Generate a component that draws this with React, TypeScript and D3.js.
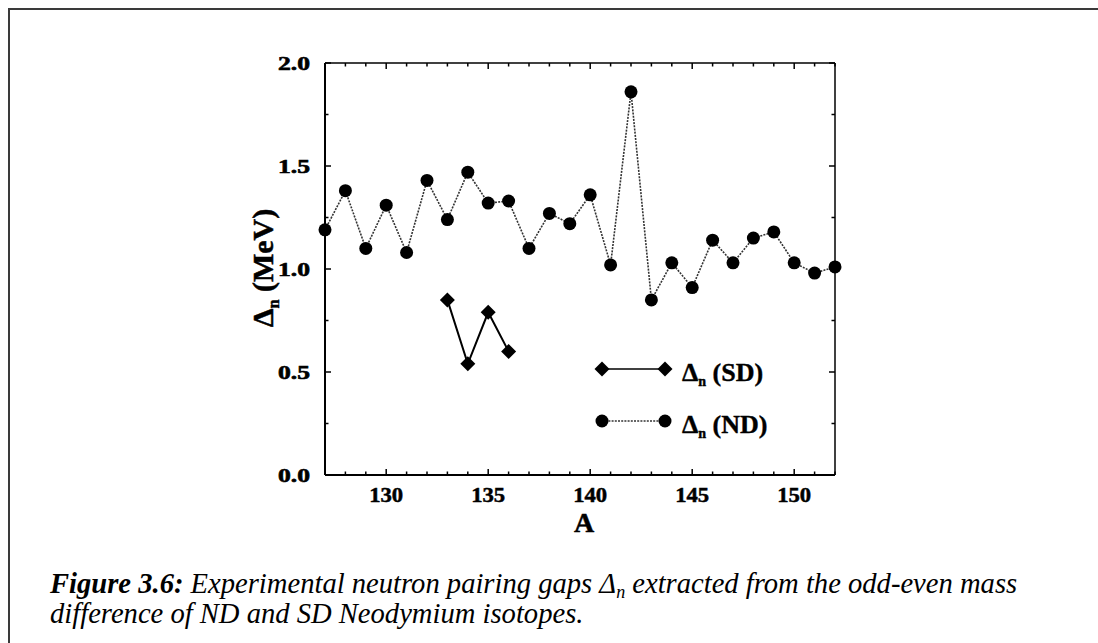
import React from "react";
import * as d3 from "d3";

const massND = [127, 128, 129, 130, 131, 132, 133, 134, 135, 136, 137, 138, 139, 140, 141, 142, 143, 144, 145, 146, 147, 148, 149, 150, 151, 152];
const gapND = [1.19, 1.38, 1.10, 1.31, 1.08, 1.43, 1.24, 1.47, 1.32, 1.33, 1.10, 1.27, 1.22, 1.36, 1.02, 1.86, 0.85, 1.03, 0.91, 1.14, 1.03, 1.15, 1.18, 1.03, 0.98, 1.01];
const massSD = [133, 134, 135, 136];
const gapSD = [0.85, 0.54, 0.79, 0.60];
const xTickValues = [130, 135, 140, 145, 150];
const yTickValues = [0, 0.5, 1.0, 1.5, 2.0];
const yTickLabels = ["0.0", "0.5", "1.0", "1.5", "2.0"];

const L = 325, R = 835, T = 63, B = 475;

export default function App() {
  const x = d3.scaleLinear().domain([127, 152]).range([L, R]);
  const y = d3.scaleLinear().domain([0, 2]).range([B, T]);
  const ndPts: [number, number][] = massND.map((a, i) => [x(a), y(gapND[i])]);
  const sdPts: [number, number][] = massSD.map((a, i) => [x(a), y(gapSD[i])]);
  const line = d3.line();
  const xMinor = d3.range(127, 153, 1);
  const yMinor = d3.range(0, 2.001, 0.25);
  const serif = "'Liberation Serif', 'Times New Roman', serif";
  const diamond = (cx: number, cy: number, r: number) =>
    `M${cx},${cy - r}L${cx + r},${cy}L${cx},${cy + r}L${cx - r},${cy}Z`;
  const ndStroke = "#333";
  const ndDash = "2,1.2";

  return (
    <svg width={1098} height={643} style={{ position: "absolute", left: 0, top: 0, display: "block" }}>
      <rect x={0} y={0} width={1098} height={643} fill="#fff" />
      <rect x={9} y={9} width={1200} height={1000} fill="none" stroke="#3a3a3a" strokeWidth={2} />

      {/* ticks */}
      {xMinor.map((a) => {
        const major = a % 5 === 0;
        const len = major ? 6 : 3.5;
        return (
          <g key={"xt" + a}>
            <line x1={x(a)} x2={x(a)} y1={B} y2={B - len} stroke="#000" strokeWidth={1.5} />
            <line x1={x(a)} x2={x(a)} y1={T} y2={T + len} stroke="#000" strokeWidth={1.5} />
          </g>
        );
      })}
      {yMinor.map((v) => {
        const major = Math.abs((v * 2) - Math.round(v * 2)) < 1e-6;
        const len = major ? 6 : 3.5;
        return (
          <g key={"yt" + v}>
            <line x1={L} x2={L + len} y1={y(v)} y2={y(v)} stroke="#000" strokeWidth={1.5} />
            <line x1={R} x2={R - len} y1={y(v)} y2={y(v)} stroke="#000" strokeWidth={1.5} />
          </g>
        );
      })}

      {/* frame */}
      <line x1={L} x2={R} y1={T} y2={T} stroke="#000" strokeWidth={1.5} />
      <line x1={R} x2={R} y1={T} y2={B} stroke="#000" strokeWidth={1.5} />
      <line x1={L} x2={R} y1={B} y2={B} stroke="#000" strokeWidth={2} />
      <line x1={L} x2={L} y1={T} y2={B} stroke="#000" strokeWidth={2} />

      {/* tick labels */}
      {yTickValues.map((v, i) => (
        <text key={"yl" + v} x={310} y={y(v) + 6.5} textAnchor="end" fontFamily={serif} fontWeight="900"
          fontSize={19} textLength={32} lengthAdjust="spacingAndGlyphs" stroke="#000" strokeWidth={0.6}>{yTickLabels[i]}</text>
      ))}
      {xTickValues.map((v) => (
        <text key={"xl" + v} x={x(v)} y={502} textAnchor="middle" fontFamily={serif} fontWeight="bold"
          fontSize={22} textLength={34} lengthAdjust="spacingAndGlyphs" stroke="#000" strokeWidth={0.5}>{String(v)}</text>
      ))}

      {/* axis titles */}
      <text x={584} y={532} textAnchor="middle" fontFamily={serif} fontWeight="bold" fontSize={28} stroke="#000" strokeWidth={0.5}>A</text>
      <text transform="translate(273,268) rotate(-90)" textAnchor="middle" fontFamily={serif} fontWeight="bold" fontSize={30}
        stroke="#000" strokeWidth={0.5}>
        Δ<tspan fontSize={16} dy={6}>n</tspan><tspan dy={-6}> (MeV)</tspan>
      </text>

      {/* ND series */}
      <path d={line(ndPts) || ""} fill="none" stroke={ndStroke} strokeWidth={1.6} strokeDasharray={ndDash} />
      {ndPts.map((p, i) => (
        <circle key={"nd" + i} cx={p[0]} cy={p[1]} r={6.5} fill="#000" />
      ))}

      {/* SD series */}
      <path d={line(sdPts) || ""} fill="none" stroke="#000" strokeWidth={2} />
      {sdPts.map((p, i) => (
        <path key={"sd" + i} d={diamond(p[0], p[1], 7.5)} fill="#000" />
      ))}

      {/* legend */}
      <line x1={602} x2={665} y1={369} y2={369} stroke="#000" strokeWidth={1.5} />
      <path d={diamond(602, 369, 7.5)} fill="#000" />
      <path d={diamond(665, 369, 7.5)} fill="#000" />
      <text x={682} y={381} fontFamily={serif} fontWeight="bold" fontSize={26} stroke="#000" strokeWidth={0.4}>
        Δ<tspan fontSize={14} dy={5}>n</tspan><tspan dy={-5}> (SD)</tspan>
      </text>
      <line x1={602} x2={665} y1={421} y2={421} stroke={ndStroke} strokeWidth={1.6} strokeDasharray={ndDash} />
      <circle cx={602} cy={421} r={6.5} fill="#000" />
      <circle cx={665} cy={421} r={6.5} fill="#000" />
      <text x={682} y={433} fontFamily={serif} fontWeight="bold" fontSize={26} stroke="#000" strokeWidth={0.4}>
        Δ<tspan fontSize={14} dy={5}>n</tspan><tspan dy={-5}> (ND)</tspan>
      </text>

      {/* caption */}
      <text x={50} y={593} fontFamily={serif} fontStyle="italic" fontSize={28.6}>
        <tspan fontWeight="bold">Figure 3.6:</tspan> Experimental neutron pairing gaps Δ<tspan fontSize={18} dy={5}>n</tspan><tspan dy={-5}> extracted from the odd-even mass</tspan>
      </text>
      <text x={50} y={623} fontFamily={serif} fontStyle="italic" fontSize={28.6}>
        difference of ND and SD Neodymium isotopes.
      </text>
    </svg>
  );
}
